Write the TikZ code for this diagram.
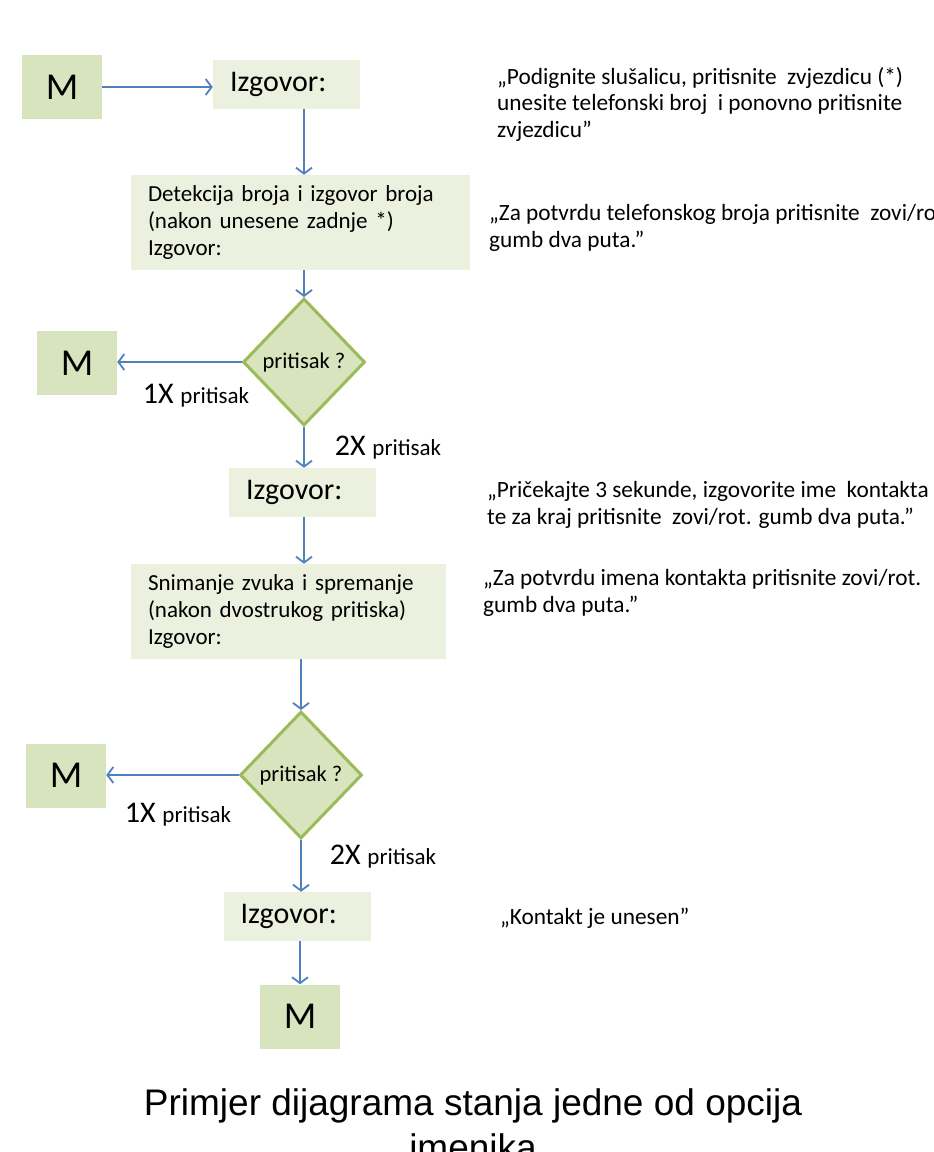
\documentclass[tikz,border=0pt]{standalone}
\usepackage{fontspec}
\setmainfont{Carlito}
\newfontfamily\capfont{Liberation Sans}
\usepackage{tikz}
\usetikzlibrary{shapes.geometric, arrows.meta, positioning}

\definecolor{mgreen}{HTML}{D7E4BD}
\definecolor{boxgreen}{HTML}{EBF1DE}
\definecolor{edgegreen}{HTML}{9BBB59}
\definecolor{arrowblue}{HTML}{4F81BD}

\begin{document}
\begin{tikzpicture}[
    x=1pt, y=-1pt,
    mbox/.style={rectangle, fill=mgreen, minimum width=80pt, minimum height=64pt, inner sep=0pt, font=\fontsize{38}{40}\selectfont},
    saybox/.style={rectangle, fill=boxgreen, text width=#1, align=left, inner xsep=17pt, inner ysep=0pt},
    check/.style={diamond, draw=edgegreen, line width=3pt, fill=mgreen, minimum width=122pt, minimum height=127pt, inner sep=0pt, font=\fontsize{22.5}{24}\selectfont},
    arrow/.style={-{Straight Barb[length=6pt,width=16pt]}, arrowblue, line width=1.8pt},
    note/.style={anchor=base west, align=left, inner sep=0pt, font=\fontsize{23.3}{26.5}\selectfont},
    press/.style={anchor=base, inner sep=0pt, font=\fontsize{30}{32}\selectfont}
]
\useasboundingbox[fill=white] (0,0) rectangle (934,1152);

% Main flow
\node[mbox] (m1) at (62,87) {M};
\node[saybox=113pt, minimum height=49pt, font=\fontsize{30}{32}\selectfont] (izg1) at (286.5,84) {Izgovor:};
\node[saybox=305pt, minimum height=95pt, font=\fontsize{23}{27}\selectfont] (det) at (300.5,222.5) {Detekcija broja i izgovor broja\\(nakon unesene zadnje *)\\Izgovor:};
\node[check] (dia1) at (304,362) {pritisak ?};
\node[mbox] (m2) at (77,363) {M};
\node[saybox=113pt, minimum height=49pt, font=\fontsize{30}{32}\selectfont] (izg2) at (302.5,492.5) {Izgovor:};
\node[saybox=281pt, minimum height=95pt, font=\fontsize{23}{27}\selectfont] (sni) at (288.5,611.5) {Snimanje zvuka i spremanje\\(nakon dvostrukog pritiska)\\Izgovor:};
\node[check] (dia2) at (301,775) {pritisak ?};
\node[mbox] (m3) at (66,775.5) {M};
\node[saybox=113pt, minimum height=49pt, font=\fontsize{30}{32}\selectfont] (izg3) at (297,916.5) {Izgovor:};
\node[mbox] (m4) at (300,1016.5) {M};

% Press counts
\node[press] (p1a) at (196,403) {1X {\fontsize{23}{25}\selectfont pritisak}};
\node[press] (p2a) at (388,455) {2X {\fontsize{23}{25}\selectfont pritisak}};
\node[press] (p1b) at (178,822) {1X {\fontsize{23}{25}\selectfont pritisak}};
\node[press] (p2b) at (383,864) {2X {\fontsize{23}{25}\selectfont pritisak}};

% Spoken texts (base = last line)
\node[note] (t1) at (497,137) {„Podignite slušalicu, pritisnite~ zvjezdicu (*)\\unesite telefonski broj~ i ponovno pritisnite\\zvjezdicu"};
\node[note] (t2) at (489,247) {„Za potvrdu telefonskog broja pritisnite~ zovi/rot.\\gumb dva puta.”};
\node[note] (t3) at (487,524) {„Pričekajte 3 sekunde, izgovorite ime~ kontakta\\te za kraj pritisnite~ zovi/rot. gumb dva puta.”};
\node[note] (t4) at (483,612) {„Za potvrdu imena kontakta pritisnite zovi/rot.\\gumb dva puta.”};
\node[note] (t5) at (500,924) {„Kontakt je unesen”};

% Arrows
\draw[arrow] (m1.east) -- (m1.east -| izg1.west);
\draw[arrow] (izg1.south -| dia1.north) -- (det.north -| dia1.north);
\draw[arrow] (det.south -| dia1.north) -- (dia1.north);
\draw[arrow] (dia1.west) -- (dia1.west -| m2.east);
\draw[arrow] (dia1.south) -- (izg2.north -| dia1.south);
\draw[arrow] (izg2.south -| dia1.south) -- (sni.north -| dia1.south);
\draw[arrow] (sni.south -| dia2.north) -- (dia2.north);
\draw[arrow] (dia2.west) -- (dia2.west -| m3.east);
\draw[arrow] (dia2.south) -- (izg3.north -| dia2.south);
\draw[arrow] (izg3.south -| m4.north) -- (m4.north);

% Caption
\node[anchor=base, align=center, inner sep=0pt, font=\capfont\fontsize{37}{45}\selectfont] (cap) at (473,1160) {Primjer dijagrama stanja jedne od opcija\\imenika};

\end{tikzpicture}
\end{document}
